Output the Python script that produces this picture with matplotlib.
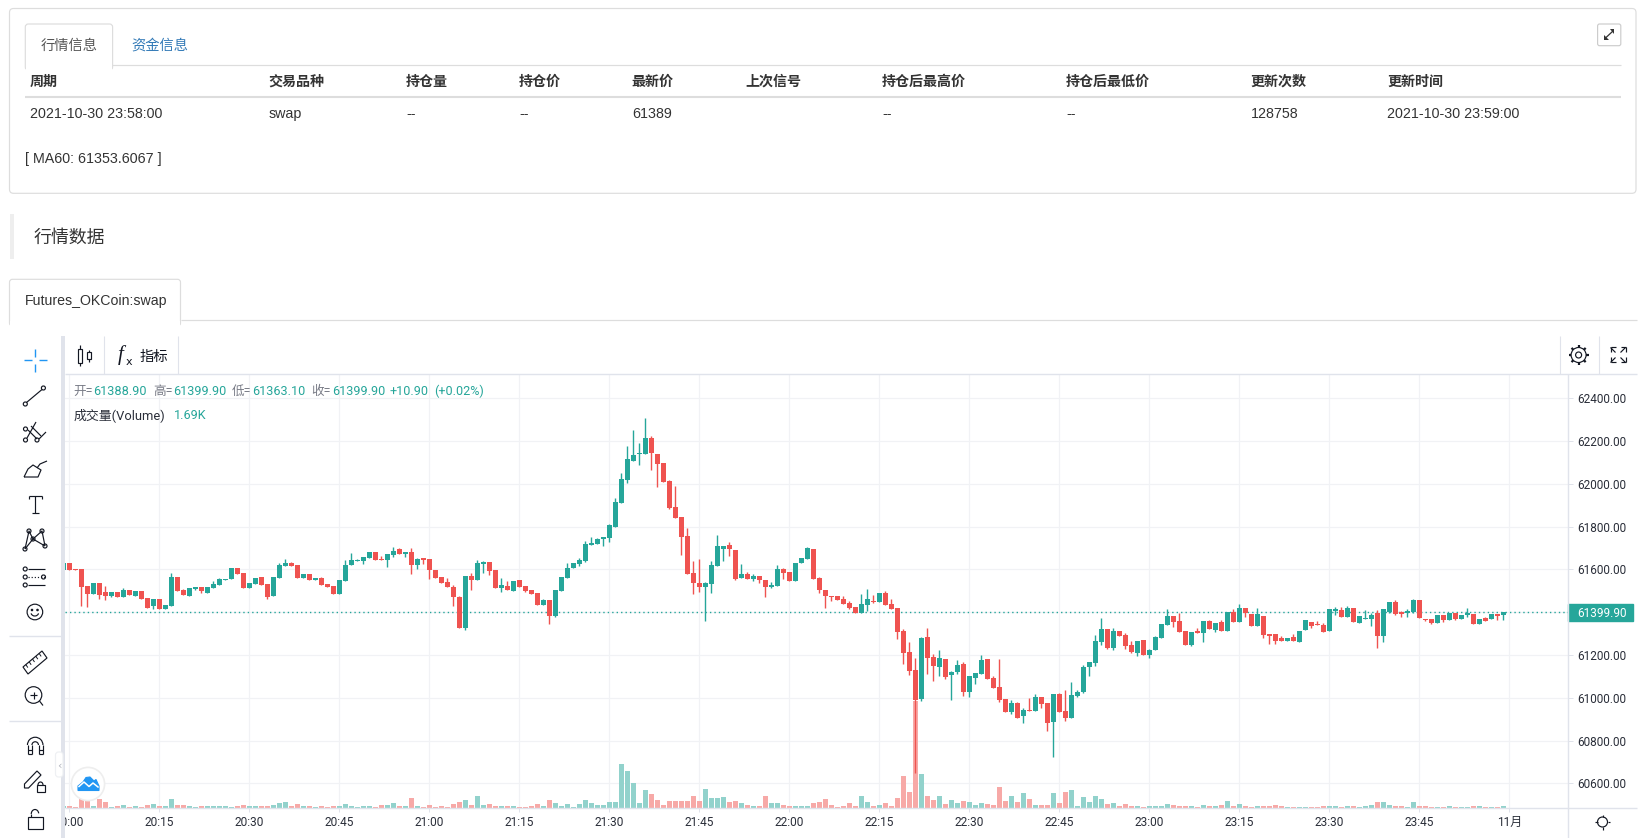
import matplotlib
matplotlib.use("Agg")
import matplotlib.pyplot as plt
from matplotlib.patches import Rectangle, Circle, FancyBboxPatch, Polygon, Arc
from matplotlib.transforms import blended_transform_factory
import numpy as np

# ---------- data ----------
first_bar = -1  # minutes after 20:00
opens = [
 61598,61631,61602,61602,61523,61486,61537,61495,61476,61495,61472,
 61504,61476,61500,61467,61430,61462,61416,61430,61565,61504,
 61476,61509,61518,61490,61514,61528,61551,61556,61607,61584,
 61514,61532,61565,61532,61476,61560,61617,61631,61621,61560,
 61579,61551,61560,61532,61523,61486,61546,61621,61640,61640,
 61654,61682,61649,61645,61668,61696,61673,61682,61621,61654,
 61649,61598,61565,61542,61518,61472,61327,61570,61551,61626,
 61635,61598,61514,61523,61500,61551,61523,61504,61490,61434,
 61458,61383,61500,61560,61607,61626,61640,61715,61719,61743,
 61747,61799,61911,62018,62107,62140,62140,62215,62140,62098,
 62014,61892,61846,61757,61584,61537,61518,61532,61617,61696,
 61715,61691,61560,61579,61556,61570,61551,61518,61523,61602,
 61588,61546,61631,61649,61696,61560,61504,61476,61476,61462,
 61444,61425,61397,61434,61453,61448,61490,61439,61420,61313,
 61215,61130,60995,61285,61191,61145,61182,61107,61121,61159,
 61028,61093,61112,61182,61093,61051,60995,60934,60976,60916,
 60944,60939,61004,60976,60888,61018,60939,60906,61009,61028,
 61145,61163,61261,61322,61233,61313,61294,61247,61210,61271,
 61201,61224,61280,61341,61383,61360,61313,61247,61313,61303,
 61360,61317,61355,61313,61402,61355,61420,61392,61336,61383,
 61299,61299,61280,61266,61285,61261,61317,61355,61345,61341,
 61313,61406,61411,61378,61420,61350,61369,61369,61397,61289,
 61402,61448,61402,61397,61402,61458,61369,61369,61350,61388,
 61364,61397,61369,61388,61392,61345,61373,61369,61392,61388.9]
closes = [
 61631,61598,61598,61518,61486,61537,61481,61476,61495,61472,61504,
 61481,61500,61462,61420,61462,61416,61434,61565,61500,61481,
 61514,61518,61500,61518,61532,61556,61556,61607,61579,61514,
 61537,61560,61528,61472,61565,61621,61631,61617,61560,61579,
 61551,61560,61528,61518,61486,61551,61621,61645,61645,61659,
 61682,61645,61645,61673,61687,61673,61682,61621,61649,61645,
 61598,61560,61537,61518,61472,61327,61570,61551,61631,61635,
 61593,61514,61528,61504,61546,61518,61500,61486,61434,61458,
 61383,61504,61565,61607,61631,61645,61719,61724,61743,61752,
 61808,61916,62023,62116,62135,62145,62215,62145,62093,62009,
 61888,61841,61752,61579,61537,61518,61537,61621,61710,61710,
 61696,61556,61579,61556,61570,61551,61518,61528,61602,61584,
 61546,61631,61654,61701,61556,61504,61476,61472,61458,61439,
 61420,61397,61439,61462,61448,61490,61434,61416,61308,61210,
 61126,60990,61280,61187,61149,61187,61098,61121,61154,61028,
 61102,61116,61177,61088,61046,60990,60934,60976,60906,60944,
 60939,61004,60972,60883,61018,60934,60906,61014,61028,61145,
 61168,61266,61322,61233,61313,61289,61243,61215,61266,61201,
 61224,61285,61345,61383,61355,61308,61247,61308,61303,61360,
 61322,61350,61313,61402,61355,61420,61397,61336,61392,61294,
 61289,61266,61266,61280,61266,61313,61364,61336,61341,61308,
 61416,61416,61378,61420,61355,61383,61373,61388,61289,61416,
 61448,61392,61392,61406,61458,61373,61364,61350,61388,61364,
 61397,61369,61388,61397,61345,61369,61360,61392,61383,61399.9]
highs = [
 61631,61631,61602,61602,61523,61537,61537,61523,61495,61495,61514,
 61504,61500,61500,61467,61462,61462,61434,61584,61565,61509,
 61514,61518,61518,61518,61546,61560,61556,61607,61607,61584,
 61537,61560,61565,61532,61565,61631,61649,61635,61621,61579,
 61579,61560,61565,61532,61523,61551,61645,61677,61649,61659,
 61682,61682,61663,61673,61705,61701,61682,61701,61654,61654,
 61649,61598,61565,61560,61528,61476,61570,61584,61645,61640,
 61635,61598,61560,61546,61546,61551,61523,61504,61490,61462,
 61458,61504,61565,61631,61631,61654,61733,61752,61747,61752,
 61813,61934,62051,62177,62252,62191,62308,62224,62140,62098,
 62018,61990,61846,61794,61640,61649,61542,61640,61761,61710,
 61729,61691,61626,61588,61579,61570,61551,61542,61621,61607,
 61588,61631,61654,61705,61696,61565,61504,61476,61476,61476,
 61453,61425,61486,61509,61481,61490,61500,61462,61420,61322,
 61261,61187,61285,61327,61205,61224,61182,61126,61177,61168,
 61102,61116,61201,61182,61102,61182,60995,60990,60981,60953,
 61000,61018,61004,60976,61018,61023,61037,61074,61037,61154,
 61168,61294,61373,61322,61327,61313,61303,61266,61266,61271,
 61229,61289,61345,61416,61383,61397,61313,61308,61327,61360,
 61364,61350,61364,61402,61416,61439,61420,61392,61420,61383,
 61299,61299,61289,61280,61299,61313,61364,61355,61360,61350,
 61416,61425,61425,61430,61420,61383,61411,61397,61411,61416,
 61448,61458,61406,61416,61462,61458,61369,61369,61388,61388,
 61397,61397,61388,61420,61392,61369,61378,61392,61392,61399.9]
lows = [
 61598,61598,61598,61430,61425,61486,61462,61458,61472,61472,61472,
 61481,61476,61462,61420,61416,61416,61416,61430,61500,61481,
 61476,61504,61490,61490,61514,61528,61551,61556,61579,61514,
 61514,61532,61528,61462,61476,61560,61617,61617,61560,61560,
 61551,61551,61528,61518,61486,61486,61546,61621,61640,61626,
 61654,61645,61645,61612,61659,61673,61659,61579,61602,61626,
 61556,61560,61537,61518,61430,61327,61317,61504,61551,61584,
 61574,61514,61495,61504,61500,61518,61495,61486,61434,61434,
 61345,61378,61500,61560,61607,61617,61635,61715,61719,61710,
 61729,61799,61911,62004,62107,62088,62140,62065,61986,62009,
 61883,61841,61668,61579,61486,61495,61360,61490,61617,61640,
 61663,61551,61560,61556,61546,61537,61472,61514,61523,61556,
 61546,61546,61631,61649,61556,61490,61420,61453,61458,61439,
 61416,61397,61397,61406,61444,61448,61434,61416,61275,61159,
 61107,60649,60986,61112,61079,61102,61088,60990,61112,61009,
 61004,61065,61112,61088,61046,60981,60934,60925,60906,60883,
 60939,60939,60953,60845,60724,60934,60892,60906,61004,61023,
 61102,61149,61247,61229,61224,61289,61229,61210,61196,61201,
 61187,61224,61280,61341,61331,61308,61247,61243,61303,61261,
 61322,61308,61313,61313,61355,61355,61378,61336,61336,61280,
 61252,61252,61266,61266,61266,61261,61317,61327,61341,61308,
 61313,61388,61378,61378,61355,61350,61369,61336,61233,61261,
 61397,61388,61378,61378,61397,61373,61360,61345,61350,61355,
 61364,61364,61369,61378,61345,61345,61360,61369,61364,61363.1]
volumes_k = [
 1.7,1.7,0.8,8.4,5.9,1.7,7.6,5.0,0.8,1.7,2.5,
 0.8,1.7,0.8,2.5,3.4,1.7,1.7,7.6,2.5,2.5,
 1.7,0.8,1.7,1.7,1.7,1.7,1.7,0.8,1.7,2.5,
 1.7,1.7,1.7,1.7,2.5,4.2,5.0,1.7,3.4,1.7,
 1.7,0.8,1.7,0.8,1.7,1.7,3.4,1.7,0.8,1.7,
 1.7,0.8,2.5,2.5,4.2,1.7,1.7,8.4,1.7,0.8,
 2.5,0.8,1.7,0.8,3.4,5.0,6.7,2.5,10.1,2.5,
 3.4,1.7,1.7,1.7,1.7,0.8,0.8,1.7,3.4,1.7,
 6.7,4.2,1.7,3.4,0.8,3.4,6.7,4.2,2.5,2.5,
 5.0,5.0,37.8,31.1,21.0,4.2,15.1,11.8,6.7,2.5,
 5.9,5.9,5.9,5.9,10.1,5.9,16.0,8.4,8.4,9.2,
 5.0,5.9,4.2,2.5,1.7,1.7,10.1,4.2,4.2,2.5,
 1.7,1.7,1.7,1.7,4.2,5.0,7.6,2.5,0.8,1.7,
 4.2,1.7,10.1,5.0,1.7,2.5,4.2,1.7,8.4,26.9,
 13.4,90.7,29.4,10.1,6.7,10.1,3.4,6.7,4.2,5.9,
 5.0,2.5,4.2,3.4,2.5,17.6,5.9,10.1,5.0,12.6,
 7.6,2.5,2.5,2.5,12.6,4.2,13.4,15.1,1.7,9.2,
 5.0,10.1,7.6,3.4,4.2,1.7,3.4,1.7,1.7,0.8,
 1.7,1.7,1.7,3.4,2.5,1.7,1.7,1.7,0.8,2.5,
 1.7,1.7,2.5,5.9,1.7,3.4,1.7,0.8,1.7,1.7,
 1.7,2.5,1.7,0.8,0.8,0.8,0.8,0.8,0.8,1.7,
 1.7,1.7,0.8,1.7,1.7,0.8,1.7,2.5,5.0,5.0,
 2.5,1.7,1.7,0.8,5.0,1.7,1.7,0.8,0.8,0.8,
 1.7,0.8,0.8,0.8,1.7,1.7,0.8,0.8,0.8,1.69]
price_ticks = [60600,60800,61000,61200,61400,61600,61800,62000,62200,62400]
time_tick_labels = ["20:00","20:15","20:30","20:45","21:00","21:15","21:30","21:45",
                    "22:00","22:15","22:30","22:45","23:00","23:15","23:30","23:45","11月"]
headers = ["周期","交易品种","持仓量","持仓价","最新价","上次信号","持仓后最高价","持仓后最低价","更新次数","更新时间"]
row = ["2021-10-30 23:58:00","swap","--","--","61389","","--","--","128758","2021-10-30 23:59:00"]

# ---------- style ----------
W, H = 1650, 838
UP, DOWN = "#26a69a", "#ef5350"
VUP, VDOWN = "#92d2cc", "#f7a9a7"
GRID, FRAME = "#f1f2f5", "#e0e3eb"
INK = "#131722"
CJK = ["Noto Sans CJK SC", "DejaVu Sans"]
WEB = ["Liberation Sans", "Noto Sans CJK SC"]
CH = ["Roboto", "Noto Sans CJK SC"]
plt.rcParams["font.family"] = WEB
PX = 0.72  # one pixel in points at dpi 100

fig = plt.figure(figsize=(W / 100, H / 100), dpi=100, facecolor="white")

L, R, T, B = 65, 1567.5, 374.3, 808.3
pos = [L / W, 1 - B / H, (R - L) / W, (B - T) / H]
xlim = ((L - 69.3) / 6, (R - 69.3) / 6)
ylim = (60484, 62512)
vol_top = (B - T) * 0.845

x = np.arange(first_bar, first_bar + len(opens))
o, c, h, l = map(np.array, (opens, closes, highs, lows))
up = c >= o

# grid + axes labels
ax = fig.add_axes(pos)
ax.set_xlim(xlim); ax.set_ylim(ylim)
ax.set_xticks(np.arange(0, 241, 15))
ax.set_xticklabels(time_tick_labels, family=CH, fontsize=8.6, color="#2a2e39")
ax.set_yticks(price_ticks)
ax.set_yticklabels([f"{p:.2f}" for p in price_ticks], family=CH, fontsize=8.5, color="#2a2e39")
ax.yaxis.tick_right()
ax.tick_params(axis="y", length=3.6, width=PX, color=FRAME, pad=3.6)
ax.tick_params(axis="x", length=3, width=PX, color=FRAME, pad=2.2)
ax.grid(True, color=GRID, lw=0.85)
ax.set_axisbelow(True)
for s in ax.spines.values():
    s.set_visible(False)

# volume
axv = fig.add_axes(pos, sharex=ax)
axv.set_ylim(0, vol_top)
axv.patch.set_visible(False); axv.axis("off")
axv.bar(x, volumes_k, width=5 / 6, color=[VUP if u else VDOWN for u in up], antialiased=False)

# candles
axc = fig.add_axes(pos, sharex=ax)
axc.set_ylim(ylim)
axc.patch.set_visible(False); axc.axis("off")
last = closes[-1]
axc.axhline(last, color=UP, lw=1.0, ls=(0, (1, 2.2)), zorder=1)
colors = [UP if u else DOWN for u in up]
axc.vlines(x, l, h, colors=colors, lw=1.0, zorder=2)
axc.bar(x, np.maximum(np.abs(c - o), 2), bottom=np.minimum(o, c), width=5 / 6,
        color=colors, zorder=3, antialiased=False)

# last price tag
tr = blended_transform_factory(axc.transAxes, axc.transData)
axc.add_patch(Rectangle((1.0, last - 40), 65 / (R - L), 80, transform=tr, color=UP,
                        clip_on=False, zorder=6))
axc.text(1.0 + 9.5 / (R - L), last, f"{last:.2f}", transform=tr, color="white", family=CH,
         fontsize=8.5, va="center_baseline", ha="left", zorder=7, clip_on=False)

# ---------- page furniture in pixel space ----------
ui = fig.add_axes([0, 0, 1, 1], zorder=10)
ui.set_xlim(0, W); ui.set_ylim(H, 0)
ui.axis("off"); ui.patch.set_visible(False)


def line(xs, ys, color=INK, lw=0.85, **k):
    ui.plot(xs, ys, color=color, lw=lw, solid_capstyle="butt", **k)


def circ(cx, cy, r, color=INK, lw=0.85, fc="none"):
    ui.add_patch(Circle((cx, cy), r, ec=color, fc=fc, lw=lw))


def box(x0, y0, x1, y1, ec="#dddddd", fc="white", lw=0.85, rnd=3, z=1):
    ui.add_patch(FancyBboxPatch((x0, y0), x1 - x0, y1 - y0, boxstyle=f"round,pad=0,rounding_size={rnd}",
                                ec=ec, fc=fc, lw=lw, zorder=z))


def txt(px, py, s, size=10.25, color="#333333", fam=WEB, **k):
    k.setdefault("va", "center_baseline")
    ui.text(px, py - 1, s, fontsize=size, color=color, family=fam, **k)


# left white panel hides the first tick label; chart frame
ui.add_patch(Rectangle((0, 336), 61, H - 336, fc="white", ec="none", zorder=0))
ui.add_patch(Rectangle((61, 336), 4, H - 336, fc=FRAME, ec="none", zorder=1))
line([65, 1637], [T, T], FRAME, 1.0)
line([65, 1637], [B, B], FRAME, 1.0)
line([R, R], [T, H], FRAME, 1.0)
for sx in (103.6, 177.5, 1559.5, 1598.5):
    line([sx, sx], [336, T], FRAME, 0.8)

# info card
box(9.5, 8.5, 1636, 193.3, rnd=4, ec="#dddddd")
line([25.3, 1621], [65.3, 65.3], "#dddddd", 0.85)
box(25.3, 24, 112.6, 70, rnd=3, z=2)
ui.add_patch(Rectangle((26, 65.6), 86, 5, fc="white", ec="none", zorder=3))
txt(41, 45, "行情信息", color="#555555")
txt(130.8, 45, "资金信息", color="#337ab7")
col_x = [30, 268, 406, 519, 631.5, 745, 882, 1066, 1250.5, 1387]
for cx, head, val in zip(col_x, headers, row):
    txt(cx, 81, head, color="#333333", fontweight="bold", size=10.1)
col_v = [30, 269, 406, 519.5, 632, 745.6, 882, 1066.6, 1250.8, 1387]
for cx, val in zip(col_v, row):
    txt(cx, 113.3, val)
line([25.3, 1621], [96.7, 96.7], "#dddddd", 1.5)
txt(25.3, 158.3, "[ MA60: 61353.6067 ]")
box(1597.6, 24, 1620.8, 45.7, ec="#cccccc", rnd=2)
line([1605.5, 1613], [38, 31], "#333333", 0.9)
ui.add_patch(Polygon([[1609.5, 29.5], [1614, 29.5], [1614, 34]], fc="#333333", ec="none", zorder=3))
ui.add_patch(Polygon([[1604, 35.5], [1604, 40], [1608.5, 40]], fc="#333333", ec="none", zorder=3))

# section title
ui.add_patch(Rectangle((9.5, 214), 4.7, 44.7, fc="#eeeeee", ec="none"))
txt(33.5, 237, "行情数据", size=12.9, color="#333333")

# second tab row
line([180.5, 1637], [320.3, 320.3], "#dddddd", 0.85)
box(9.5, 279.3, 180.5, 326, rnd=3, z=2)
ui.add_patch(Rectangle((10, 320.6), 170, 6, fc="white", ec="none", zorder=3))
txt(24.7, 300, "Futures_OKCoin:swap", size=10.2)

# chart legend
gray, teal = "#787b86", UP
pieces = [(73, "开=", gray), (93.6, "61388.90", teal), (153, "高=", gray), (173.6, "61399.90", teal),
          (232, "低=", gray), (252, "61363.10", teal), (311.4, "收=", gray), (331.8, "61399.90", teal),
          (390, "+10.90", teal), (434, "(+0.02%)", teal)]
for px, s, col in pieces:
    txt(px, 390.7, s, size=9.1, color=col, fam=CH)
txt(74, 414.7, "成交量(Volume)", size=9.3, color="#2a2e39", fam=CH)
txt(173.6, 414.7, "1.69K", size=9.1, color=teal, fam=CH)

# top toolbar
for cx, y0, y1, b0, b1 in ((80, 345, 366, 349, 363), (88.5, 350, 362, 352, 359)):
    line([cx, cx], [y0, y1])
    ui.add_patch(Rectangle((cx - 2, b0), 4, b1 - b0, fc="white", ec=INK, lw=0.85, zorder=3))
txt(121, 354, "f", size=15, color=INK, fam=["Liberation Serif"], style="italic", ha="center")
txt(128.5, 362, "x", size=8, color=INK, fam=["DejaVu Sans"], ha="center")
txt(140, 356, "指标", size=10.3, color=INK, fam=CJK)
# gear
circ(1578.6, 355, 3, lw=0.85)
circ(1578.6, 355, 7.5, lw=0.85)
for a in np.arange(0, 360, 45):
    ca, sa = np.cos(np.radians(a)), np.sin(np.radians(a))
    line([1578.6 + 7.5 * ca, 1578.6 + 10 * ca], [355 + 7.5 * sa, 355 + 10 * sa], lw=1.6)
# fullscreen
for sx, sy in ((-1, -1), (1, -1), (-1, 1), (1, 1)):
    cx, cy = 1618 + sx * 7.5, 355 + sy * 7.5
    line([cx, cx], [cy, cy - sy * 5])
    line([cx, cx - sx * 5], [cy, cy])
    line([cx, cx - sx * 5], [cy, cy - sy * 5])
# sun
circ(1602.5, 822, 5)
for a in np.arange(0, 360, 90):
    ca, sa = np.cos(np.radians(a)), np.sin(np.radians(a))
    line([1602.5 + 5 * ca, 1602.5 + 7.5 * ca], [822 + 5 * sa, 822 + 7.5 * sa])

# left drawing tools
cx = 35.4
blue = "#2196f3"
line([24, 32], [360, 360], blue, 1.0); line([38.6, 47], [360, 360], blue, 1.0)
line([cx, cx], [349, 357], blue, 1.0); line([cx, cx], [364, 372], blue, 1.0)
# trend line
line([26.5, 42], [402.5, 389.5]); circ(25.3, 404, 2); circ(43.4, 388, 2)
# fork
line([36, 27], [422, 438]); line([28, 37], [430, 439]); line([39, 46], [439, 432]); line([31, 41], [426, 436])
circ(25.5, 429, 2); circ(25.5, 440, 2); circ(37, 440, 2)
# brush
line([24, 38, 41, 33, 28, 24], [477, 477, 470, 465, 469, 477])
line([37, 40, 47], [468, 464, 461])
# text
line([29, 42], [496, 496]); line([cx, cx], [496, 513]); line([32, 39], [513, 513])
line([29, 29], [496, 499]); line([42, 42], [496, 499])
# nodes
nod = [(29, 531), (42, 531), (25, 549), (45, 546), (33, 539)]
line([25, 29, 33, 42, 45], [549, 531, 539, 531, 546]); line([25, 33, 45], [549, 539, 546])
for n in nod:
    circ(n[0], n[1], 2, fc="white")
# fib
for yy, ls in ((569, "-"), (577, ":"), (585, "-")):
    line([28, 45], [yy, yy], ls=ls)
circ(25.2, 569, 2); circ(25.2, 577, 2); circ(25.2, 585, 2); circ(43.5, 577, 2)
# smile
circ(cx - 0.5, 612, 7.8)
circ(32, 610, 0.7, fc=INK); circ(37.5, 610, 0.7, fc=INK)
ui.add_patch(Arc((34.8, 612), 8, 8, theta1=20, theta2=160, color=INK, lw=0.85))
line([9, 61], [636, 636], FRAME, 1.0)
# ruler
ui.add_patch(Polygon([[23, 667], [42, 651], [47, 658], [28, 674]], closed=True, fc="none", ec=INK, lw=0.85))
for t in np.linspace(0.15, 0.85, 5):
    px, py = 23 + 19 * t, 667 - 16 * t
    line([px, px + 2], [py, py + 3], lw=0.7)
# zoom
circ(33.5, 695, 8.3); line([39.5, 43], [701, 705.5])
line([30, 37], [695, 695]); line([33.5, 33.5], [691.5, 698.5])
line([9, 61], [721, 721], FRAME, 1.0)
# magnet
line([27.5, 27.5], [754, 745]); line([43, 43], [754, 745])
ui.add_patch(Arc((35.2, 745), 15.5, 15.5, theta1=180, theta2=360, color=INK, lw=0.85))
line([32, 32], [754, 745]); line([38.5, 38.5], [754, 745])
ui.add_patch(Arc((35.2, 745), 6.5, 6.5, theta1=180, theta2=360, color=INK, lw=0.85))
line([27.5, 32], [754, 754]); line([38.5, 43], [754, 754]); line([27.5, 32], [750, 750]); line([38.5, 43], [750, 750])
# pencil lock
ui.add_patch(Polygon([[24.5, 788], [24.5, 784], [37, 771], [41, 775], [28.5, 788]], closed=True, fc="none", ec=INK, lw=0.85))
ui.add_patch(Rectangle((36.5, 785), 8, 6.5, fc="white", ec=INK, lw=0.85, zorder=3))
ui.add_patch(Arc((40.5, 785), 5, 6, theta1=180, theta2=360, color=INK, lw=0.85))
# lock
ui.add_patch(Rectangle((28, 817), 14.5, 11.5, fc="white", ec=INK, lw=0.85, zorder=3))
ui.add_patch(Arc((35, 814), 7.5, 9, theta1=180, theta2=350, color=INK, lw=0.85))
line([31.3, 31.3], [814, 817]); circ(35.2, 822.5, 0.8, fc=INK)

# collapse handle
box(55.5, 752, 63, 777, ec="#eef0f3", rnd=3, z=4)
txt(59.3, 765.5, "‹", size=8, color="#b2b5be", fam=["DejaVu Sans"], ha="center", zorder=5)

# logo
ui.add_patch(Circle((88, 784), 16.6, fc="white", ec="#eeeeee", lw=1.2, zorder=4))
ui.add_patch(Polygon([[78, 790.5], [78, 786], [83, 782], [86, 777.5], [90, 777], [94, 781], [96, 779.5],
                      [99, 786], [99, 790.5]], closed=True, fc=blue, ec=blue, lw=0.8, zorder=5))
ui.plot([79, 84, 89, 93, 98], [786.5, 782, 786.5, 783, 787], color="white", lw=1.1, zorder=6)

fig.savefig("out.png", dpi=100, facecolor="white")
